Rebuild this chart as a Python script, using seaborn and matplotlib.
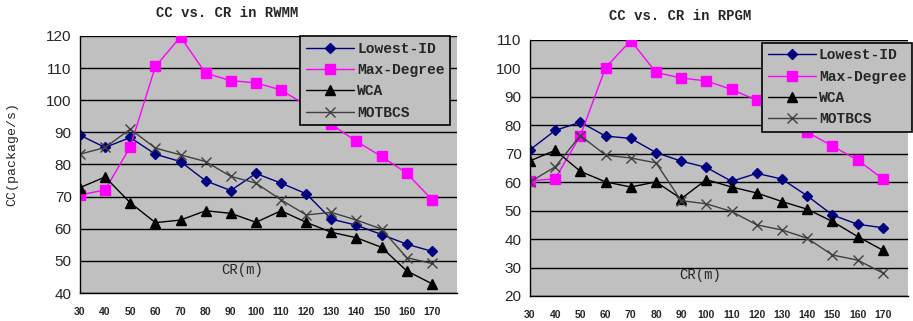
import pandas as pd
import seaborn as sns
import matplotlib.pyplot as plt

# CR values (m)
cr = [30, 40, 50, 60, 70, 80, 90, 100, 110, 120, 130, 140, 150, 160, 170]
series_names = ['Lowest-ID', 'Max-Degree', 'WCA', 'MOTBCS']

# RWMM panel
rwmm_lowest = [89.1, 85.3, 88.4, 83.2, 80.9, 74.9, 71.9, 77.2, 74.2, 70.9, 63.0, 61.1, 58.2, 55.2, 53.0]
rwmm_maxdeg = [70.5, 72.1, 85.5, 110.5, 119.7, 108.4, 106.1, 105.4, 103.2, 98.4, 92.5, 87.2, 82.5, 77.3, 69.1]
rwmm_wca = [72.8, 76.1, 68.1, 61.9, 62.7, 65.6, 64.8, 62.0, 65.6, 62.0, 58.9, 57.2, 54.2, 46.9, 42.9]
rwmm_motbcs = [83.2, 85.3, 91.0, 85.1, 83.0, 80.9, 76.3, 74.2, 69.0, 64.3, 65.1, 62.7, 59.9, 51.0, 49.2]

# RPGM panel
rpgm_lowest = [71.4, 78.2, 81.1, 76.2, 75.4, 70.4, 67.4, 65.2, 60.3, 63.1, 61.1, 55.2, 48.5, 45.2, 44.0]
rpgm_maxdeg = [60.5, 61.2, 76.4, 100.3, 109.8, 98.6, 96.6, 95.6, 92.6, 88.8, 81.5, 77.6, 72.7, 67.8, 61.2]
rpgm_wca = [67.5, 71.2, 63.8, 60.1, 58.3, 60.1, 54.2, 60.9, 58.3, 56.2, 53.2, 50.5, 46.2, 40.9, 36.1]
rpgm_motbcs = [60.1, 65.4, 76.4, 69.5, 68.5, 66.8, 53.5, 52.4, 49.7, 45.0, 43.2, 40.3, 34.4, 32.6, 28.1]

colors = {'Lowest-ID': '#000080', 'Max-Degree': '#ff00ff', 'WCA': '#000000', 'MOTBCS': '#404040'}
markers = {'Lowest-ID': 'D', 'Max-Degree': 's', 'WCA': '^', 'MOTBCS': 'x'}
msizes = {'Lowest-ID': 5, 'Max-Degree': 7.5, 'WCA': 7, 'MOTBCS': 7}

mono = 'Liberation Mono'


def draw_panel(ax, data, ylim, legend_box):
    for name, vals in zip(series_names, data):
        df = pd.DataFrame({'CR': cr, 'CC': vals})
        sns.lineplot(data=df, x='CR', y='CC', ax=ax, color=colors[name],
                     marker=markers[name], markersize=msizes[name],
                     markeredgecolor=colors[name], markeredgewidth=1.0,
                     linewidth=1.0, label=name)
    ax.set_facecolor('#c0c0c0')
    ax.set_xlim(30, 180)
    ax.set_ylim(*ylim)
    ax.set_xticks(cr)
    ax.set_xticklabels([str(c) for c in cr], fontsize=7.5, fontweight='bold')
    ax.set_yticks(range(ylim[0], ylim[1] + 1, 10))
    ax.tick_params(axis='y', labelsize=11, length=0, pad=6)
    ax.tick_params(axis='x', length=0, pad=10)
    ax.grid(axis='y', color='black', linewidth=1.0)
    ax.grid(axis='x', visible=False)
    for s in ['top', 'right']:
        ax.spines[s].set_visible(False)
    for s in ['left', 'bottom']:
        ax.spines[s].set_color('black')
        ax.spines[s].set_linewidth(1.0)
    ax.set_xlabel('')
    ax.set_ylabel('')
    leg = ax.legend(loc='upper left', bbox_to_anchor=legend_box, frameon=True,
                    fancybox=False, edgecolor='black', facecolor='#c0c0c0',
                    framealpha=1, prop={'family': mono, 'size': 10.5, 'weight': 'bold'},
                    handlelength=3.3, borderpad=0.4, labelspacing=0.5,
                    handletextpad=0.2, borderaxespad=0)
    leg.get_frame().set_linewidth(1.2)


sns.set_style('white')
plt.rcParams['font.family'] = ['Liberation Sans', 'DejaVu Sans']

fig = plt.figure(figsize=(9.13, 3.21), dpi=100)
ax1 = fig.add_axes([0.0876, 0.0872, 0.4129, 0.8008])
ax2 = fig.add_axes([0.5805, 0.0780, 0.4140, 0.7975])

draw_panel(ax1, [rwmm_lowest, rwmm_maxdeg, rwmm_wca, rwmm_motbcs], (40, 120), (0.584, 1.0))
draw_panel(ax2, [rpgm_lowest, rpgm_maxdeg, rpgm_wca, rpgm_motbcs], (20, 110), (0.614, 0.99))

fig.text(0.249, 0.96, 'CC vs. CR in RWMM', ha='center', va='center',
         family=mono, fontsize=10, fontweight='bold')
fig.text(0.745, 0.95, 'CC vs. CR in RPGM', ha='center', va='center',
         family=mono, fontsize=10, fontweight='bold')
fig.text(0.013, 0.52, 'CC(package/s)', rotation=90, ha='center', va='center',
         family=mono, fontsize=9.5)
ax1.text(0.43, 0.09, 'CR(m)', transform=ax1.transAxes, ha='center', va='center',
         family=mono, fontsize=10)
ax2.text(0.45, 0.082, 'CR(m)', transform=ax2.transAxes, ha='center', va='center',
         family=mono, fontsize=10)

fig.savefig('out.png', dpi=100)
